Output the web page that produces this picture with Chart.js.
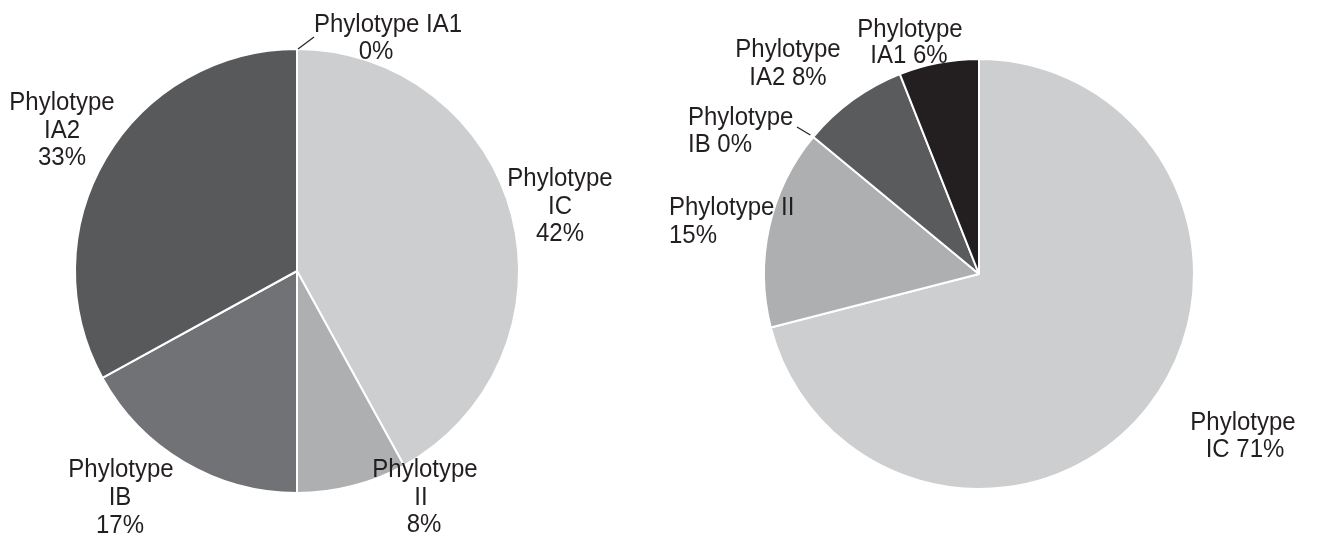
<!DOCTYPE html>
<html>
<head>
<meta charset="utf-8">
<script src="https://cdn.jsdelivr.net/npm/chart.js@4/dist/chart.umd.min.js"></script>
<style>
  html, body { margin: 0; padding: 0; background: #fff; }
  body { width: 1317px; height: 537px; position: relative; overflow: hidden; }
  canvas { position: absolute; top: 0; }
  #pieKiri { left: 0; }
  #pieKanan { left: 660px; }
</style>
</head>
<body>
<canvas id="pieKiri" width="660" height="537"></canvas>
<canvas id="pieKanan" width="657" height="537"></canvas>
<script>
// ====== DATA ======
const kategori = ["Phylotype IC", "Phylotype II", "Phylotype IB", "Phylotype IA2", "Phylotype IA1"];

// Pie kiri
const nilaiKiri = [42, 8, 17, 33, 0];
const warnaKiri = ["#cdcecf", "#aeafb1", "#717276", "#58595b", "#231f20"];

// Pie kanan
const nilaiKanan = [71, 15, 0, 8, 6];
const warnaKanan = ["#cdcecf", "#aeafb1", "#aeafb1", "#5a5b5d", "#231f20"];

const pct = (v) => v + "%";

// ====== PLUGIN LABEL ======
// tulis label tiap irisan + garis penunjuk untuk irisan 0%
const labelIrisan = {
  id: "labelIrisan",
  afterDatasetsDraw(chart, args, opts) {
    const ctx = chart.ctx;
    const meta = chart.getDatasetMeta(0);
    ctx.save();
    ctx.font = '25px "Liberation Sans", Arial, sans-serif';
    ctx.fillStyle = "#231f20";
    ctx.textBaseline = "alphabetic";
    (opts.items || []).forEach((item) => {
      item.lines.forEach((l) => {
        ctx.save();
        ctx.translate(l.x, l.y);
        ctx.scale(0.96, 1);
        ctx.textAlign = l.align || "center";
        ctx.fillText(l.text, 0, 0);
        ctx.restore();
      });
      if (item.leader) {
        const arc = meta.data[item.index];
        const a = arc.startAngle;
        const x0 = arc.x + Math.cos(a) * arc.outerRadius;
        const y0 = arc.y + Math.sin(a) * arc.outerRadius;
        ctx.strokeStyle = "#231f20";
        ctx.lineWidth = 1.2;
        ctx.beginPath();
        ctx.moveTo(x0 + item.leader.dx0, y0 + item.leader.dy0);
        ctx.lineTo(item.leader.x, item.leader.y);
        ctx.stroke();
      }
    });
    ctx.restore();
  },
};

function buatPie(id, nilai, warna, padding, items) {
  const ctx = document.getElementById(id).getContext("2d");
  return new Chart(ctx, {
    type: "pie",
    data: {
      labels: kategori,
      datasets: [
        {
          data: nilai,
          backgroundColor: warna,
          borderColor: "#ffffff",
          borderWidth: 2,
          hoverOffset: 0,
        },
      ],
    },
    options: {
      responsive: false,
      animation: false,
      layout: { padding: padding },
      plugins: {
        legend: { display: false },
        tooltip: { enabled: false },
        labelIrisan: { items: items },
      },
    },
    plugins: [labelIrisan],
  });
}

// ====== PIE KIRI ======
buatPie("pieKiri", nilaiKiri, warnaKiri, { left: 74, right: 140, top: 48, bottom: 43 }, [
  { lines: [
      { text: "Phylotype", x: 560, y: 186 },
      { text: "IC", x: 560, y: 214 },
      { text: pct(nilaiKiri[0]), x: 560, y: 241 } ] },
  { lines: [
      { text: "Phylotype", x: 425, y: 477 },
      { text: "II", x: 421, y: 505 },
      { text: pct(nilaiKiri[1]), x: 424, y: 532 } ] },
  { lines: [
      { text: "Phylotype", x: 121, y: 477 },
      { text: "IB", x: 120, y: 505 },
      { text: pct(nilaiKiri[2]), x: 120, y: 533 } ] },
  { lines: [
      { text: "Phylotype", x: 62, y: 110 },
      { text: "IA2", x: 62, y: 138 },
      { text: pct(nilaiKiri[3]), x: 62, y: 165 } ] },
  { index: 4, leader: { dx0: 1, dy0: 0, x: 314, y: 37 },
    lines: [
      { text: kategori[4], x: 388, y: 32 },
      { text: pct(nilaiKiri[4]), x: 376, y: 59 } ] },
]);

// ====== PIE KANAN ====== (koordinat relatif ke kanvas kanan, x - 660)
buatPie("pieKanan", nilaiKanan, warnaKanan, { left: 103, right: 122, top: 58, bottom: 47 }, [
  { lines: [
      { text: "Phylotype", x: 1243 - 660, y: 430 },
      { text: "IC " + pct(nilaiKanan[0]), x: 1245 - 660, y: 457 } ] },
  { lines: [
      { text: "Phylotype II", x: 669 - 660, y: 215, align: "left" },
      { text: pct(nilaiKanan[1]), x: 669 - 660, y: 243, align: "left" } ] },
  { index: 2, leader: { dx0: -3, dy0: -2, x: 797 - 660, y: 127 },
    lines: [
      { text: "Phylotype", x: 688 - 660, y: 125, align: "left" },
      { text: "IB " + pct(nilaiKanan[2]), x: 688 - 660, y: 152, align: "left" } ] },
  { lines: [
      { text: "Phylotype", x: 788 - 660, y: 57 },
      { text: "IA2 " + pct(nilaiKanan[3]), x: 788 - 660, y: 85 } ] },
  { lines: [
      { text: "Phylotype", x: 910 - 660, y: 37 },
      { text: "IA1 " + pct(nilaiKanan[4]), x: 909 - 660, y: 63 } ] },
]);
</script>
</body>
</html>
